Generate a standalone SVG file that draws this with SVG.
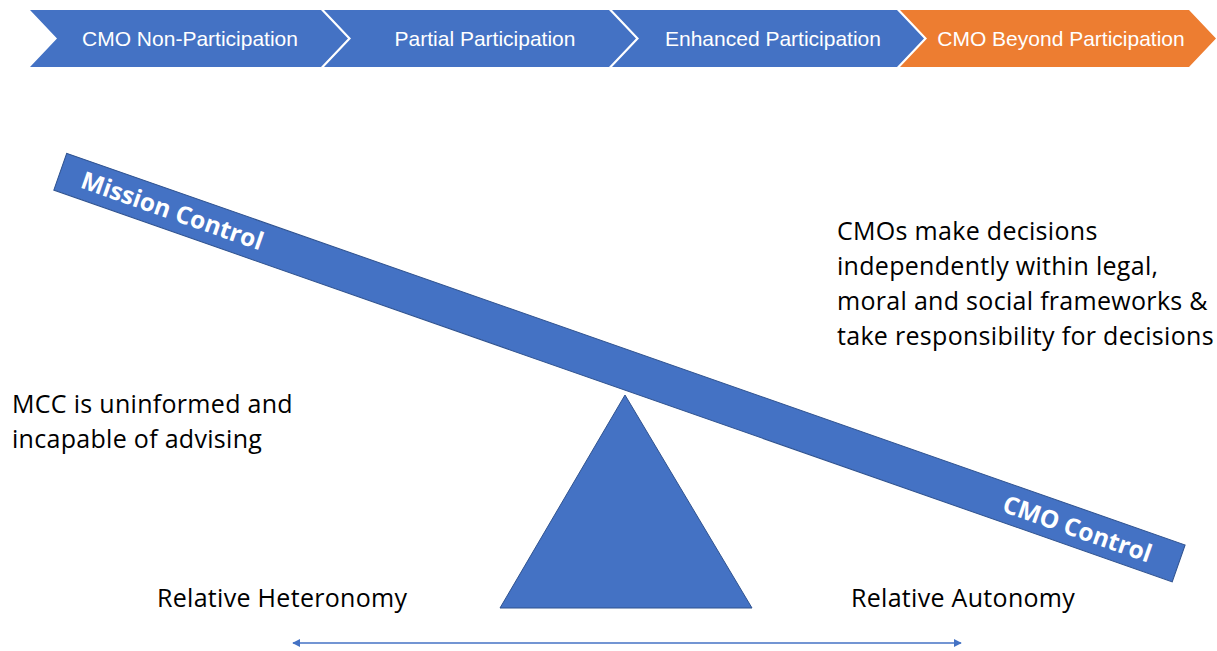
<svg xmlns="http://www.w3.org/2000/svg" width="1217" height="651" viewBox="0 0 1217 651">
  <style>
    .chev { stroke: none; }
    .blue { fill: #4472C4; }
    .orange { fill: #ED7D31; }
    .chevtxt { font-family: "Liberation Sans", Arial, sans-serif; font-size: 21px; fill: #FFFFFF; text-anchor: middle; }
    .body { font-family: "Open Sans", "Liberation Sans", sans-serif; font-size: 25px; letter-spacing: 0.3px; fill: #000000; }
    .beamtxt { font-family: "Open Sans", "Liberation Sans", sans-serif; font-size: 24.5px; font-weight: bold; fill: #FFFFFF; }
    .shape { fill: #4472C4; stroke: #2F528F; stroke-width: 1; }
  </style>
  <defs>
    <marker id="tri" viewBox="0 0 10 10" refX="9" refY="5" markerWidth="5" markerHeight="5" orient="auto-start-reverse">
      <path d="M0,0 L10,5 L0,10 Z" fill="#4472C4"/>
    </marker>
  </defs>

  <!-- process chevrons -->
  <g id="stage-1">
    <polygon class="chev blue" points="30,10 321,10 348,38.5 321,67 30,67 57,38.5"/>
    <text class="chevtxt" x="190" y="46">CMO Non-Participation</text>
  </g>
  <g id="stage-2">
    <polygon class="chev blue" points="324,10 609,10 636,38.5 609,67 324,67 351,38.5"/>
    <text class="chevtxt" x="485" y="46">Partial Participation</text>
  </g>
  <g id="stage-3">
    <polygon class="chev blue" points="612,10 897,10 924,38.5 897,67 612,67 639,38.5"/>
    <text class="chevtxt" x="773" y="46">Enhanced Participation</text>
  </g>
  <g id="stage-4">
    <polygon class="chev orange" points="900,10 1189,10 1216,38.5 1189,67 900,67 927,38.5"/>
    <text class="chevtxt" x="1061" y="46">CMO Beyond Participation</text>
  </g>

  <!-- seesaw beam -->
  <g id="beam" transform="translate(66.7,153.3) rotate(19.3)">
    <rect class="shape" x="0" y="0" width="1185" height="39"/>
    <text class="beamtxt" x="23" y="28">Mission Control</text>
    <text class="beamtxt" x="1000" y="29">CMO Control</text>
  </g>

  <!-- fulcrum -->
  <g id="fulcrum">
    <polygon class="shape" points="625,395 752,608 500,608"/>
  </g>

  <!-- explanatory notes -->
  <g id="note-autonomy">
    <text class="body" x="837" y="240">CMOs make decisions</text>
    <text class="body" x="837" y="275">independently within legal,</text>
    <text class="body" x="837" y="310">moral and social frameworks &amp;</text>
    <text class="body" x="837" y="345">take responsibility for decisions</text>
  </g>
  <g id="note-heteronomy">
    <text class="body" x="12" y="413">MCC is uninformed and</text>
    <text class="body" x="12" y="448">incapable of advising</text>
  </g>
  <g id="label-heteronomy">
    <text class="body" x="157" y="607">Relative Heteronomy</text>
  </g>
  <g id="label-autonomy">
    <text class="body" x="851" y="607">Relative Autonomy</text>
  </g>

  <!-- scale axis -->
  <g id="connectors">
    <line x1="293" y1="643" x2="961" y2="643" stroke="#4472C4" stroke-width="1.6" marker-start="url(#tri)" marker-end="url(#tri)"/>
  </g>
</svg>
